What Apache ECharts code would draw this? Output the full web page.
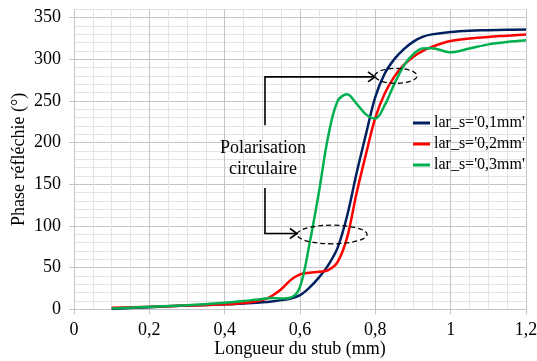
<!DOCTYPE html>
<html>
<head>
<meta charset="utf-8">
<script src="https://cdn.jsdelivr.net/npm/echarts@6/dist/echarts.min.js"></script>
<style>
html,body{margin:0;padding:0;background:#fff;}
#c{width:537px;height:361px;}
</style>
</head>
<body>
<div id="c"></div>
<script>
// ---- data ----
const stubLength = [0.1,0.2,0.3,0.4,0.45,0.5,0.525,0.55,0.575,0.6,0.625,0.65,0.675,0.7,0.725,0.75,0.775,0.8,0.825,0.85,0.875,0.9,0.925,0.95,1.0,1.05,1.1,1.15,1.2];
const phase01 = [0.5,2.5,4.5,6,7,8.5,9.5,11,13,17,26,38,53,74,112,163,210,255,283,300,312,321,327,330,333,334.5,335,335.5,336];
const phase02 = [2,3,4.5,6,7.5,11,16,24,35,42,44,45,47,57,86,139,186,230,259,279,293,303,310,315,322,325,327,328.5,330];
const phase03 = [1,3,5,8,10,12.5,13.5,13,14,27,78,140,208,250,258,247,234,229,245,270,292,306,313,313.5,308.5,313,318,321,323];
const seriesNames = ["lar_s='0,1mm'", "lar_s='0,2mm'", "lar_s='0,3mm'"];
const annotationText = 'Polarisation\ncirculaire';

const FONT = '"Liberation Serif","Times New Roman",serif';
const colors = ['#002060', '#ff0000', '#00b050'];
const MAJOR = '#c4c4c4', MINOR = '#e4e4e4';

const chart = echarts.init(document.getElementById('c'), null, {renderer: 'canvas'});
const zip = ys => stubLength.map((x, i) => [x, ys[i]]);
const fmt = v => String(v).replace('.', ',');

chart.setOption({
  backgroundColor: '#fff',
  animation: false,
  textStyle: {fontFamily: FONT},
  grid: {left: 74, right: 11, top: 9.4, bottom: 51.7, containLabel: false, outerBoundsMode: 'none'},
  legend: {
    orient: 'vertical', left: 413, top: 115, padding: 0, itemGap: 5,
    itemWidth: 17, itemHeight: 3, icon: 'rect',
    textStyle: {fontFamily: FONT, fontSize: 16, color: '#000', lineHeight: 16, padding: [0,0,0,-1]},
    data: seriesNames
  },
  xAxis: {
    type: 'value', min: 0, max: 1.2, interval: 0.2,
    name: 'Longueur du stub (mm)', nameLocation: 'middle', nameGap: 31, nameMoveOverlap: false,
    nameTextStyle: {fontFamily: FONT, fontSize: 18, color: '#000'},
    axisLine: {show: true, lineStyle: {color: MAJOR, width: 1}},
    axisTick: {show: true, inside: false, length: 5, lineStyle: {color: MAJOR}},
    axisLabel: {fontFamily: FONT, fontSize: 18, color: '#000', margin: 12, formatter: fmt},
    splitLine: {show: true, lineStyle: {color: MAJOR, width: 1}},
    minorTick: {show: false, splitNumber: 4},
    minorSplitLine: {show: true, lineStyle: {color: MINOR, width: 1}}
  },
  yAxis: [
    {
      type: 'value', min: 0, max: 360, interval: 10,
      axisLine: {show: false}, axisTick: {show: false}, axisLabel: {show: false},
      splitLine: {show: true, lineStyle: {color: MINOR, width: 1}}
    },
    {
      type: 'value', min: 0, max: 360, interval: 50, position: 'left',
      name: 'Phase réfléchie (°)', nameLocation: 'middle', nameGap: 46, nameMoveOverlap: false,
      nameTextStyle: {fontFamily: FONT, fontSize: 18, color: '#000'},
      axisLine: {show: true, lineStyle: {color: MAJOR, width: 1}},
      axisTick: {show: true, inside: false, length: 5, lineStyle: {color: MAJOR}},
      axisLabel: {fontFamily: FONT, fontSize: 18, color: '#000', margin: 13, showMaxLabel: false,
        formatter: v => (v % 50 === 0 ? String(v) : '')},
      splitLine: {show: true, showMaxLine: false, lineStyle: {color: MAJOR, width: 1}}
    }
  ],
  series: [phase01, phase02, phase03].map((ys, i) => ({
    name: seriesNames[i], type: 'line', yAxisIndex: 1, data: zip(ys),
    showSymbol: false, symbol: 'none', smooth: 0.35,
    lineStyle: {color: colors[i], width: 2.5}, itemStyle: {color: colors[i]}
  }))
});

// ---- annotations (anchored in data coordinates) ----
const ann = {
  stemX: 0.507, textY: 181,
  upper: {fromY: 221, y: 279, toX: 0.799, ell: [0.855, 280.3, 0.0558, 9]},
  lower: {fromY: 145.6, y: 91, toX: 0.592, ell: [0.685, 89.8, 0.093, 11.2]}
};
const P = (x, y) => chart.convertToPixel({seriesIndex: 0}, [x, y]);
function arrowEls(a) {
  const s = P(ann.stemX, a.fromY), c = P(ann.stemX, a.y), e = P(a.toX, a.y);
  const st = {stroke: '#000', lineWidth: 1.6, fill: null};
  return [
    {type: 'polyline', shape: {points: [s, c, e]}, style: st, z: 100},
    {type: 'polyline', shape: {points: [[e[0]-7, e[1]-5], e, [e[0]-7, e[1]+5]]}, style: st, z: 100}
  ];
}
function ellEl(el) {
  const c = P(el[0], el[1]);
  const rx = P(el[0] + el[2], el[1])[0] - c[0];
  const ry = c[1] - P(el[0], el[1] + el[3])[1];
  return {type: 'ellipse', shape: {cx: c[0], cy: c[1], rx: rx, ry: ry},
    style: {stroke: '#000', lineWidth: 1.3, fill: null, lineDash: [5, 3]}, z: 100};
}
const tp = P(ann.stemX, ann.textY);
chart.setOption({
  graphic: [
    ...arrowEls(ann.upper), ...arrowEls(ann.lower),
    ellEl(ann.upper.ell), ellEl(ann.lower.ell),
    {type: 'text', x: tp[0] - 2, y: tp[1], z: 100,
      style: {text: annotationText, fontFamily: FONT, fontSize: 18, fill: '#000',
        align: 'center', verticalAlign: 'middle', lineHeight: 21}}
  ]
});
</script>
</body>
</html>
